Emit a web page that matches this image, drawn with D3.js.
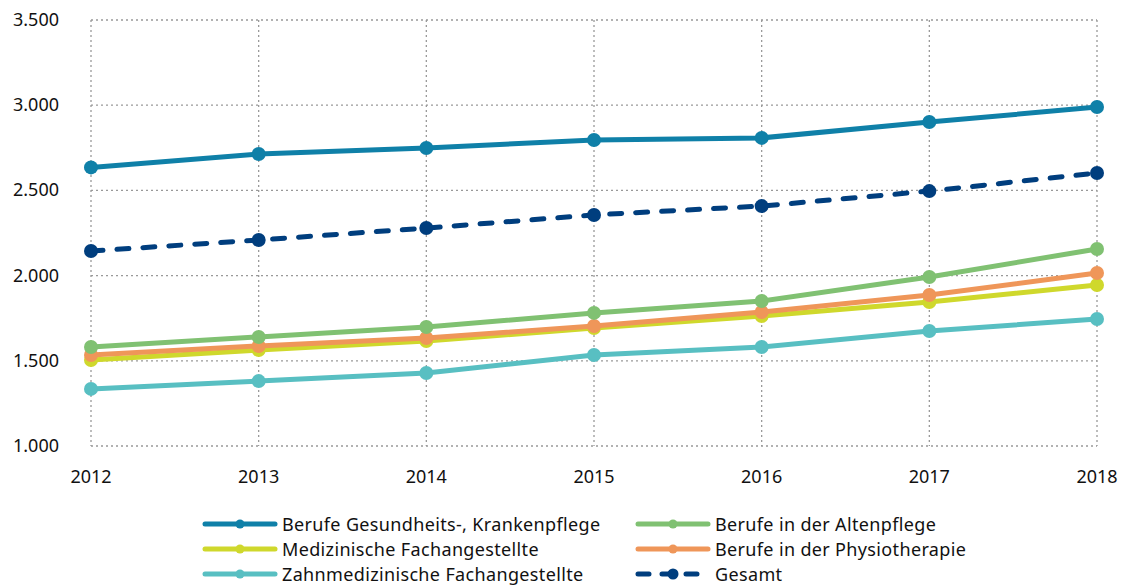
<!DOCTYPE html>
<html>
<head>
<meta charset="utf-8">
<script src="https://cdn.jsdelivr.net/npm/d3@7.9.0/dist/d3.min.js"></script>
<style>
  body { margin: 0; background: #fff; }
  svg text { font-family: "Noto Sans", sans-serif; fill: #111; }
</style>
</head>
<body>
<svg id="chart" width="1123" height="585"></svg>
<script>
// data
const years = [2012, 2013, 2014, 2015, 2016, 2017, 2018];
const yTicks = [1000, 1500, 2000, 2500, 3000, 3500];

const gesundheit = [2635, 2714, 2749, 2796, 2808, 2901, 2989];
const altenpflege = [1581, 1640, 1698, 1781, 1851, 1992, 2156];
const medizin = [1505, 1563, 1616, 1692, 1763, 1845, 1945];
const physio = [1534, 1587, 1634, 1704, 1786, 1886, 2015];
const zahn = [1335, 1381, 1428, 1534, 1581, 1675, 1745];
const gesamt = [2144, 2209, 2279, 2356, 2408, 2496, 2602];

const seriesNames = [
  "Berufe Gesundheits-, Krankenpflege",
  "Berufe in der Altenpflege",
  "Medizinische Fachangestellte",
  "Berufe in der Physiotherapie",
  "Zahnmedizinische Fachangestellte",
  "Gesamt"
];
const seriesValues = [gesundheit, altenpflege, medizin, physio, zahn, gesamt];
const seriesColors = ["#0f80a8", "#80c172", "#cfd82c", "#ef9659", "#58bfc2", "#003e7e"];

const svg = d3.select("#chart");

const x = d3.scalePoint().domain(years).range([91, 1097]);
const y = d3.scaleLinear().domain([1000, 3500]).range([446, 20]);

// grid
const grid = svg.append("g");
yTicks.forEach(t => {
  grid.append("line")
    .attr("x1", 91).attr("x2", 1097)
    .attr("y1", y(t)).attr("y2", y(t))
    .attr("stroke", "#999").attr("stroke-width", 1.3)
    .attr("stroke-dasharray", "2,3");
});
years.forEach(yr => {
  grid.append("line")
    .attr("x1", x(yr)).attr("x2", x(yr))
    .attr("y1", y(3500)).attr("y2", y(1000))
    .attr("stroke", "#999").attr("stroke-width", 1.3)
    .attr("stroke-dasharray", "2,3");
});

// axis labels
const fmt = v => d3.format(",")(v).replace(",", ".");
svg.append("g").selectAll("text").data(yTicks).join("text")
  .attr("x", 59).attr("y", d => y(d) + 6)
  .attr("text-anchor", "end")
  .attr("font-size", 18)
  .text(fmt);

svg.append("g").selectAll("text").data(years).join("text")
  .attr("x", d => x(d)).attr("y", 483)
  .attr("text-anchor", "middle")
  .attr("font-size", 18)
  .text(d => d);

// lines
const line = d3.line().x((d, i) => x(years[i])).y(d => y(d));
const drawOrder = [4, 2, 3, 1, 5, 0];
drawOrder.forEach(s => {
  const g = svg.append("g");
  g.append("path")
    .datum(seriesValues[s])
    .attr("d", line)
    .attr("fill", "none")
    .attr("stroke", seriesColors[s])
    .attr("stroke-width", 5)
    .attr("stroke-linecap", s === 5 ? "round" : "butt")
    .attr("stroke-dasharray", s === 5 ? "12,14" : null);
  g.selectAll("circle").data(seriesValues[s]).join("circle")
    .attr("cx", (d, i) => x(years[i]))
    .attr("cy", d => y(d))
    .attr("r", 7)
    .attr("fill", seriesColors[s]);
});

// legend
const legendPos = [
  [205, 524], [638, 524],
  [205, 549], [638, 549],
  [205, 574], [638, 574]
];
seriesNames.forEach((name, s) => {
  const [lx, ly] = legendPos[s];
  const g = svg.append("g");
  g.append("line")
    .attr("x1", lx).attr("x2", lx + 70)
    .attr("y1", ly).attr("y2", ly)
    .attr("stroke", seriesColors[s])
    .attr("stroke-width", 5)
    .attr("stroke-linecap", "round")
    .attr("stroke-dasharray", s === 5 ? "11,13" : null);
  g.append("circle")
    .attr("cx", lx + 35).attr("cy", ly).attr("r", s === 5 ? 5.5 : 4.5)
    .attr("fill", seriesColors[s]);
  g.append("text")
    .attr("x", lx + 77).attr("y", ly + 6.5)
    .attr("font-size", 18)
    .attr("letter-spacing", 0.35)
    .text(name);
});
</script>
</body>
</html>
